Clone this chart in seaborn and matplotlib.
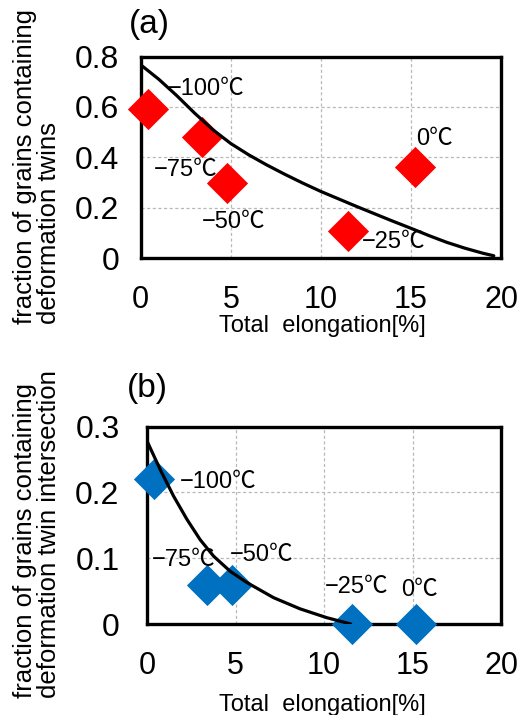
import matplotlib
matplotlib.use("Agg")
import matplotlib.pyplot as plt
import seaborn as sns
import pandas as pd

sns.set_theme(style="white")
plt.rcParams['font.family'] = ['Liberation Sans', 'Noto Sans CJK JP', 'DejaVu Sans']
plt.rcParams['text.color'] = 'black'
plt.rcParams['xtick.color'] = 'black'
plt.rcParams['ytick.color'] = 'black'
plt.rcParams['lines.solid_joinstyle'] = 'round'

# ---------------- data ----------------
temps = ["\u2212100\u2103", "\u221275\u2103", "\u221250\u2103", "\u221225\u2103", "0\u2103"]

elong_a = [0.4, 3.4, 4.8, 11.5, 15.2]
twins_a = [0.59, 0.48, 0.30, 0.11, 0.36]

elong_b = [0.4, 3.4, 4.8, 11.6, 15.2]
inter_b = [0.22, 0.06, 0.06, 0.0, 0.0]

# trend curves
curve_a_x = [0, 1, 2, 3, 4, 5, 6, 7, 8, 9, 10, 11, 12, 13, 14, 15, 16, 17, 18, 19, 19.6]
curve_a_y = [0.767, 0.71, 0.645, 0.575, 0.51, 0.455, 0.41, 0.37, 0.333, 0.298, 0.265,
             0.235, 0.205, 0.176, 0.147, 0.119, 0.09, 0.063, 0.04, 0.02, 0.01]

curve_b_x = [0.0, 0.74, 1.49, 2.24, 2.99, 3.75, 4.69, 5.63, 7.14, 8.64, 10.15, 11.5]
curve_b_y = [0.277, 0.234, 0.194, 0.159, 0.128, 0.103, 0.080, 0.063, 0.040, 0.023, 0.0096, 0.0]

# label anchors (data units: left edge, vertical centre)
lab_a_x = [1.5, 0.74, 3.38, 12.26, 15.27]
lab_a_y = [0.673, 0.349, 0.145, 0.066, 0.474]
lab_b_x = [1.85, 0.25, 4.67, 10.04, 14.37]
lab_b_y = [0.216, 0.097, 0.105, 0.0566, 0.0515]

xticks = [0, 5, 10, 15, 20]
yticks_a = [0, 0.2, 0.4, 0.6, 0.8]
yticks_a_lab = ["0", "0.2", "0.4", "0.6", "0.8"]
yticks_b = [0, 0.1, 0.2, 0.3]
yticks_b_lab = ["0", "0.1", "0.2", "0.3"]

W, H = 522, 715
fig = plt.figure(figsize=(W / 100, H / 100), dpi=100)

ax_a = fig.add_axes([140.7 / W, 1 - 258.3 / H, (501 - 140.7) / W, (258.3 - 56.5) / H])
ax_b = fig.add_axes([147.3 / W, 1 - 624.0 / H, (501 - 147.3) / W, (624.0 - 426.5) / H])


def style_axes(ax, yticks, ylabs, ymax, gridy, ypad):
    ax.set_xlim(0, 20)
    ax.set_ylim(0, ymax)
    ax.set_xticks(xticks)
    ax.set_xticklabels([str(t) for t in xticks], fontsize=22)
    ax.set_yticks(yticks)
    ax.set_yticklabels(ylabs, fontsize=23)
    for s in ax.spines.values():
        s.set_linewidth(2.4)
        s.set_color("black")
    ax.tick_params(axis="both", direction="out", length=7.5, width=2.4, color="black")
    ax.tick_params(axis="x", pad=12)
    ax.tick_params(axis="y", pad=ypad)
    for gx in [5, 10, 15]:
        ax.axvline(gx, color="#b8b8b8", lw=0.9, ls=(0, (2.5, 2)), zorder=0)
    for gy in gridy:
        ax.axhline(gy, color="#b8b8b8", lw=0.9, ls=(0, (2.5, 2)), zorder=0)
    ax.set_xlabel("")
    ax.set_ylabel("")


# ---------------- panel (a) ----------------
dfa = pd.DataFrame({"x": elong_a, "y": twins_a})
sns.scatterplot(data=dfa, x="x", y="y", marker="D", s=440, color="#ff0000",
                linewidth=0, ax=ax_a, zorder=3, clip_on=False)
dca = pd.DataFrame({"x": curve_a_x, "y": curve_a_y})
sns.lineplot(data=dca, x="x", y="y", sort=False, estimator=None, color="black",
             lw=2.3, ax=ax_a, zorder=4)
style_axes(ax_a, yticks_a, yticks_a_lab, 0.8, [0.2, 0.4, 0.6], 8)
for t, lx, ly in zip(temps, lab_a_x, lab_a_y):
    ax_a.text(lx, ly, t, fontsize=17, ha="left", va="center", zorder=5)

# ---------------- panel (b) ----------------
dfb = pd.DataFrame({"x": elong_b, "y": inter_b})
sns.scatterplot(data=dfb, x="x", y="y", marker="D", s=440, color="#0070c0",
                linewidth=0, ax=ax_b, zorder=3, clip_on=False)
dcb = pd.DataFrame({"x": curve_b_x, "y": curve_b_y})
sns.lineplot(data=dcb, x="x", y="y", sort=False, estimator=None, color="black",
             lw=2.3, ax=ax_b, zorder=4)
style_axes(ax_b, yticks_b, yticks_b_lab, 0.3, [0.1, 0.2], 12.5)
for t, lx, ly in zip(temps, lab_b_x, lab_b_y):
    ax_b.text(lx, ly, t, fontsize=17, ha="left", va="center", zorder=5)

# ---------------- titles and axis labels ----------------
fig.text(129 / W, 1 - 25 / H, "(a)", fontsize=24, ha="left", va="center")
fig.text(127 / W, 1 - 388 / H, "(b)", fontsize=24, ha="left", va="center")

fig.text(322 / W, 1 - 326 / H, "Total  elongation[%]", fontsize=17, ha="center", va="center")
fig.text(322 / W, 1 - 705 / H, "Total  elongation[%]", fontsize=17, ha="center", va="center")

fig.text(37 / W, 1 - 324 / H, "fraction of grains containing\ndeformation twins",
         fontsize=18.5, rotation=90, ha="center", va="bottom", multialignment="left",
         linespacing=0.95)
fig.text(37 / W, 1 - 698 / H, "fraction of grains containing\ndeformation twin intersection",
         fontsize=18.5, rotation=90, ha="center", va="bottom", multialignment="left",
         linespacing=0.95)

fig.savefig("out.png", dpi=100)
